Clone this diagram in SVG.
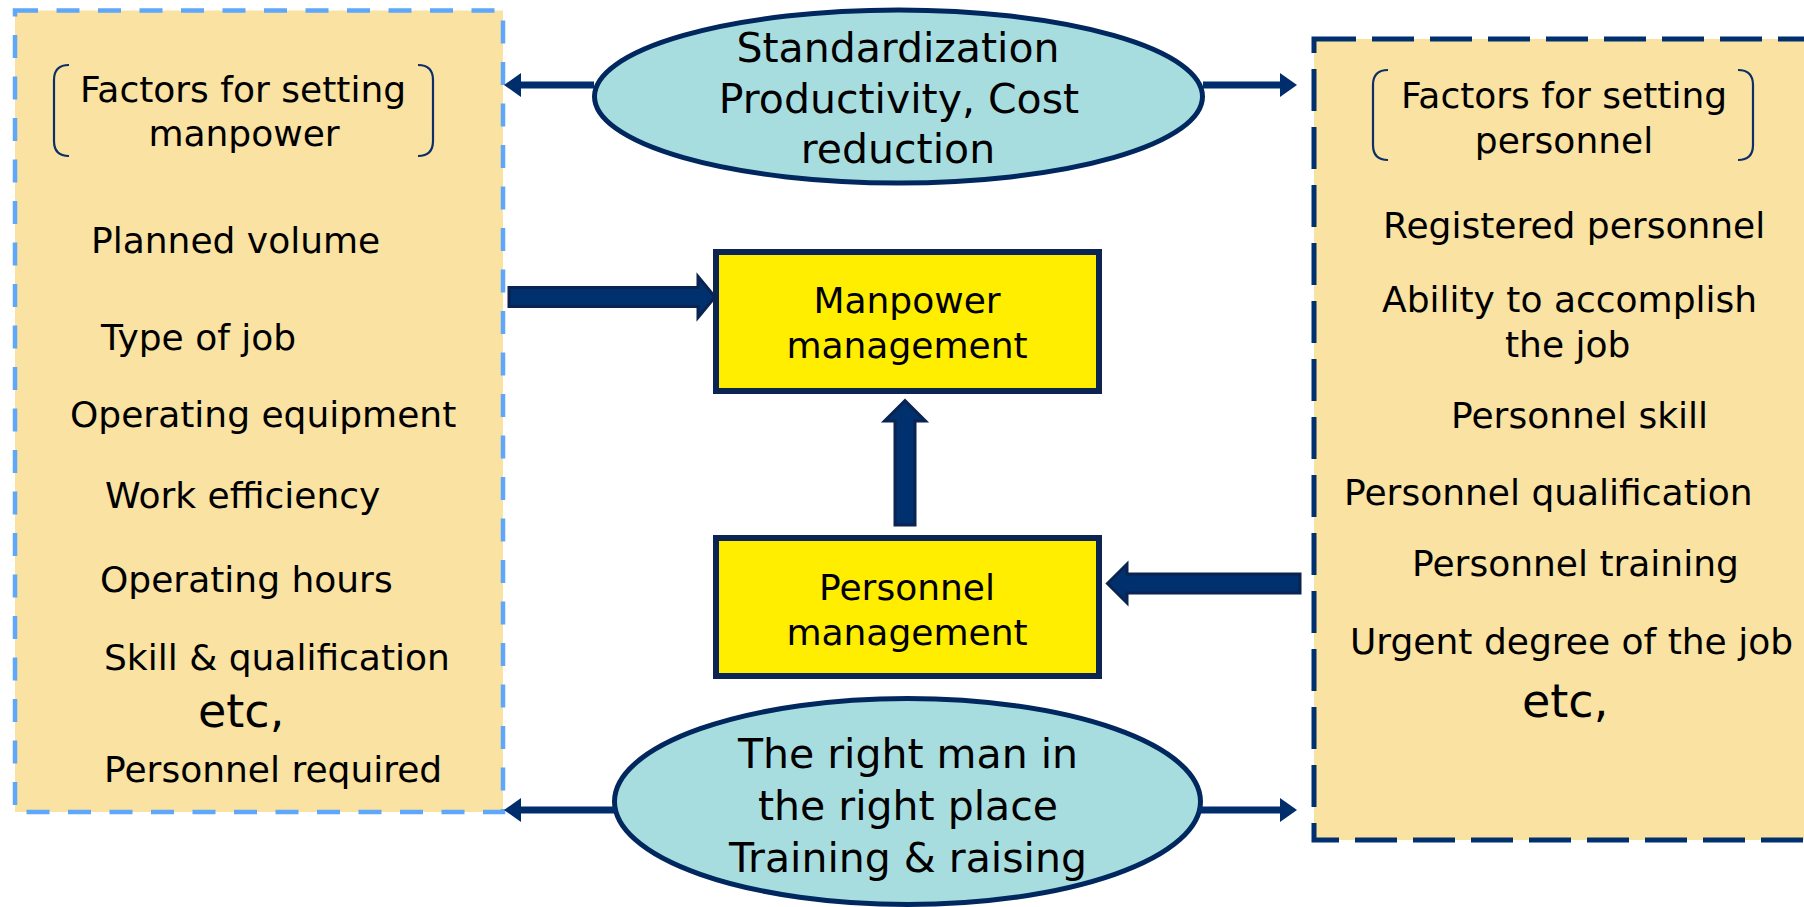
<svg xmlns="http://www.w3.org/2000/svg" width="1804" height="907" viewBox="0 0 1804 907">
<style>
text{font-family:"DejaVu Sans","Verdana",sans-serif;fill:#000}
.t36{font-size:36px}
.t41{font-size:41px;text-anchor:middle}
.c36{font-size:36px;text-anchor:middle}
.etc{font-size:46px}
.brk{fill:none;stroke:#0D2E66;stroke-width:2.2}
.ell{fill:#A8DDDF;stroke:#00285F;stroke-width:5}
.ybox{fill:#FFEE00;stroke:#0C2451;stroke-width:6}
.thin{stroke:#002D6B;stroke-width:7;fill:none}
.blk{fill:#00306E;stroke:#0A2350;stroke-width:3;stroke-linejoin:miter}
</style>
<defs>
<marker id="ah" viewBox="0 -12 17 24" refX="0" refY="0" markerWidth="17" markerHeight="24" markerUnits="userSpaceOnUse" orient="auto">
<path d="M0,-12 L17,0 L0,12 Z" fill="#002D6B"/>
</marker>
</defs>
<rect width="1804" height="907" fill="#fff"/>

<g id="manpower-factors">
<rect x="15" y="10.5" width="488" height="801.5" fill="#F9E2A2" stroke="#5EA7FB" stroke-width="4.5" stroke-dasharray="23,18.5"/>
<path class="brk" d="M69,65 Q54,65 54,80 L54,141 Q54,156 69,156"/>
<path class="brk" d="M418,65 Q433,65 433,80 L433,141 Q433,156 418,156"/>
<text class="c36" x="243" y="102">Factors for setting</text>
<text class="c36" x="244" y="146">manpower</text>
<text class="t36" x="91" y="253">Planned volume</text>
<text class="t36" x="101" y="350">Type of job</text>
<text class="t36" x="70" y="427">Operating equipment</text>
<text class="t36" x="105" y="508">Work efficiency</text>
<text class="t36" x="100" y="592">Operating hours</text>
<text class="t36" x="104" y="670">Skill &amp; qualification</text>
<text class="etc" x="198" y="727">etc,</text>
<text class="t36" x="104" y="782">Personnel required</text>
</g>

<g id="personnel-factors">
<rect x="1314" y="39" width="540" height="801" fill="#F9E2A2" stroke="#00306E" stroke-width="5" stroke-dasharray="42,16"/>
<path class="brk" d="M1388,70 Q1373,70 1373,85 L1373,145 Q1373,160 1388,160"/>
<path class="brk" d="M1738,70 Q1753,70 1753,85 L1753,145 Q1753,160 1738,160"/>
<text class="c36" x="1564" y="108">Factors for setting</text>
<text class="c36" x="1564" y="153">personnel</text>
<text class="t36" x="1383" y="238">Registered personnel</text>
<text class="t36" x="1382" y="312">Ability to accomplish</text>
<text class="t36" x="1505" y="357">the job</text>
<text class="t36" x="1451" y="428">Personnel skill</text>
<text class="t36" x="1344" y="505">Personnel qualification</text>
<text class="t36" x="1412" y="576">Personnel training</text>
<text class="t36" x="1350" y="654">Urgent degree of the job</text>
<text class="etc" x="1522" y="717">etc,</text>
</g>

<g id="goal-top">
<ellipse class="ell" cx="898.5" cy="96.5" rx="304" ry="86.5"/>
<text class="t41" x="898" y="62">Standardization</text>
<text class="t41" x="899" y="113">Productivity, Cost</text>
<text class="t41" x="898" y="163">reduction</text>
</g>

<g id="manpower-management">
<rect class="ybox" x="716" y="252" width="383" height="139"/>
<text class="c36" x="907" y="313">Manpower</text>
<text class="c36" x="907" y="358">management</text>
</g>

<g id="personnel-management">
<rect class="ybox" x="716" y="538" width="383" height="138"/>
<text class="c36" x="907" y="600">Personnel</text>
<text class="c36" x="907" y="645">management</text>
</g>

<g id="goal-bottom">
<ellipse class="ell" cx="907.5" cy="801.5" rx="293" ry="103"/>
<text class="t41" x="908" y="768">The right man in</text>
<text class="t41" x="908" y="820">the right place</text>
<text class="t41" x="908" y="872">Training &amp; raising</text>
</g>

<g id="connectors">
<line class="thin" x1="594" y1="85" x2="521" y2="85" marker-end="url(#ah)"/>
<line class="thin" x1="1203" y1="85" x2="1280" y2="85" marker-end="url(#ah)"/>
<line class="thin" x1="617" y1="810" x2="521" y2="810" marker-end="url(#ah)"/>
<line class="thin" x1="1198" y1="810" x2="1280" y2="810" marker-end="url(#ah)"/>
<path class="blk" d="M509,287.5 L698,287.5 L698,276.5 L715,297 L698,317.5 L698,306.5 L509,306.5 Z"/>
<path class="blk" d="M895,525 L895,421 L884.5,421 L905,400.5 L925.5,421 L915,421 L915,525 Z"/>
<path class="blk" d="M1300,574 L1127,574 L1127,564 L1107.5,583.5 L1127,603 L1127,593 L1300,593 Z"/>
</g>
</svg>
